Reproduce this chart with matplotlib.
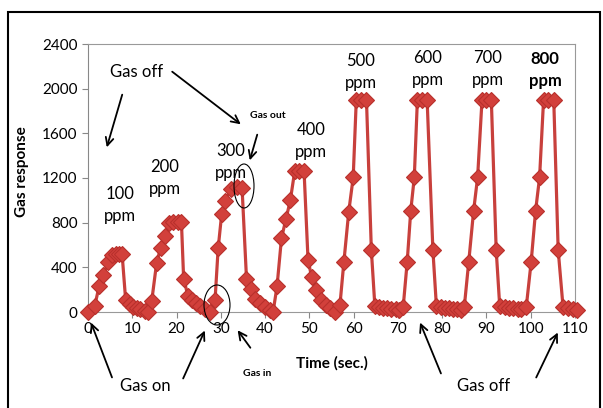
import matplotlib
matplotlib.use("Agg")
import matplotlib.pyplot as plt
from matplotlib.patches import Ellipse, Rectangle

plt.rcParams['font.family'] = ['Lato', 'DejaVu Sans']

# time (sec.) and gas response
time = [0, 1.5, 2.5, 3.5, 4.5, 5.5, 6.3, 7.0, 7.7, 8.5, 9.4, 10.2, 11.0, 11.8, 12.8, 13.6,
        14.4, 15.5, 16.4, 17.3, 18.4, 19.3, 20.3, 21.1, 21.6, 22.6, 23.4, 24.3, 25.3, 26.4, 27.5,
        28.7, 29.4, 30.2, 31.0, 32.2, 33.6, 34.8, 35.8, 36.9, 37.7, 38.8, 40.0, 41.1, 41.8,
        42.7, 43.7, 44.7, 45.7, 46.7, 47.7, 48.8, 49.7, 50.5, 51.6, 52.7, 53.7, 54.6, 55.8,
        56.9, 57.8, 58.9, 59.9, 60.6, 61.7, 62.9, 64.0, 64.8, 65.7, 66.6, 67.5, 68.5, 69.5, 70.3,
        71.2, 72.1, 72.9, 73.7, 74.4, 75.4, 76.6, 77.9, 78.7, 79.7, 80.7, 81.6, 82.5, 83.4, 84.2,
        85.0, 86.0, 87.1, 88.0, 89.0, 89.9, 91.1, 92.2, 93.0, 94.1, 95.1, 96.0, 97.1, 97.9,
        99.0, 100.1, 101.1, 102.0, 102.9, 103.9, 105.2, 106.2, 107.3, 108.4, 109.5, 110.4]
response = [0, 50, 230, 330, 450, 510, 520, 520, 520, 110, 70, 45, 35, 25, 10, 0,
            100, 440, 575, 680, 800, 810, 810, 810, 300, 140, 105, 80, 55, 25, 0,
            110, 570, 880, 990, 1100, 1115, 1110, 300, 210, 120, 78, 48, 18, 0,
            230, 660, 830, 1000, 1265, 1265, 1265, 466, 316, 197, 107, 63, 33, 0,
            60, 450, 900, 1205, 1900, 1900, 1900, 555, 50, 45, 40, 35, 30, 25, 20,
            48, 450, 907, 1205, 1900, 1900, 1900, 555, 50, 45, 40, 35, 30, 25, 20,
            48, 450, 907, 1205, 1900, 1900, 1900, 555, 50, 45, 40, 35, 30, 25,
            48, 450, 907, 1205, 1900, 1900, 1900, 555, 45, 35, 25, 20]

conc_labels = ['100\nppm', '200\nppm', '300\nppm', '400\nppm',
               '500\nppm', '600\nppm', '700\nppm', '800\nppm']

W, H = 603, 408


def fx(px):
    return px / W


def fy(py):
    return 1 - py / H


fig = plt.figure(figsize=(W / 100, H / 100), dpi=100)
ax = fig.add_axes([fx(88), fy(312), (575 - 88) / W, (312 - 44) / H])

ax.plot(time, response, color='#C8403C', lw=2.3, marker='D', markersize=8.5,
        markerfacecolor='#D2403B', markeredgecolor='#B8302C', markeredgewidth=0.8,
        clip_on=False, zorder=3)

ax.set_xlim(0, 110)
ax.set_ylim(0, 2400)
ax.set_xticks(range(0, 111, 10))
ax.set_yticks(range(0, 2401, 400))
ax.tick_params(labelsize=11, length=4, color='#888888', direction='out')
for s in ['top', 'right']:
    ax.spines[s].set_color('#999999')
ax.spines['left'].set_color('#888888')
ax.spines['bottom'].set_color('#999999')

ax.set_xlabel('Time (sec.)', fontsize=11, fontweight='bold', labelpad=14)
fig.text(fx(22), fy(172), 'Gas response', rotation=90, ha='center', va='center',
         fontsize=11, fontweight='bold')

# concentration labels
label_pos = [(120, 205), (165, 178), (231, 162), (311, 141),
             (361, 72), (428, 69), (488, 69), (545, 70)]
for (px, py), txt in zip(label_pos, conc_labels):
    fig.text(fx(px), fy(py), txt, ha='center', va='center', fontsize=12,
             linespacing=1.45, fontweight='bold' if txt.startswith('800') else 'normal')

fig.text(fx(137), fy(72), 'Gas off', ha='center', va='center', fontsize=12)
fig.text(fx(145), fy(386), 'Gas on', ha='center', va='center', fontsize=12)
fig.text(fx(484), fy(386), 'Gas off', ha='center', va='center', fontsize=12)
fig.text(fx(268), fy(115), 'Gas out', ha='center', va='center', fontsize=7.5, fontweight='bold')
fig.text(fx(257), fy(373), 'Gas in', ha='center', va='center', fontsize=7.5, fontweight='bold')

arrows = [((170, 70), (243, 126)), ((123, 92), (106, 150)), ((258, 132), (249, 163)),
          ((113, 380), (90, 320)), ((182, 381), (206, 328)), ((252, 350), (236, 328)),
          ((442, 376), (419, 320)), ((535, 380), (559, 330))]
for (tx, ty), (hx, hy) in arrows:
    ax.annotate('', xy=(fx(hx), fy(hy)), xytext=(fx(tx), fy(ty)),
                xycoords='figure fraction', textcoords='figure fraction',
                annotation_clip=False,
                arrowprops=dict(arrowstyle='->', lw=1.3, color='black', mutation_scale=14))

for (cx, cy, w, h) in [(244, 186, 20, 44), (217, 305, 26, 40)]:
    fig.add_artist(Ellipse((fx(cx), fy(cy)), w / W, h / H, fill=False,
                           edgecolor='black', lw=0.8))

fig.add_artist(Rectangle((fx(8), fy(410)), (600 - 8) / W, (410 - 12) / H, fill=False,
                         edgecolor='black', lw=1.5))

fig.savefig('out.png', dpi=100)
